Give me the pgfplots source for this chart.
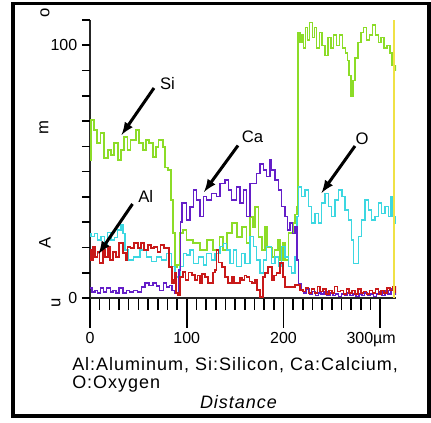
\documentclass[border=0pt]{standalone}
\usepackage{pgfplots}
\pgfplotsset{compat=1.18}
\usepackage{fontspec}
\setmainfont{Liberation Sans}
\definecolor{siG}{RGB}{140,220,40}
\definecolor{caP}{RGB}{100,30,200}
\definecolor{oC}{RGB}{60,215,225}
\definecolor{alR}{RGB}{200,25,25}
\definecolor{yel}{RGB}{240,225,70}
\begin{document}
\begin{tikzpicture}
\begin{axis}[
  scale only axis,
  width=229.6pt, height=208.5pt,
  xmin=0, xmax=316.5, ymin=0, ymax=110,
  axis x line=bottom, axis y line=left,
  axis line style={-, line width=1.2pt, black!85},
  xtick align=outside, ytick align=outside,
  xtick style={black, line width=1.2pt},
  ytick style={black, line width=1.2pt},
  major tick length=22.5pt, minor tick length=9pt,
  xtick={0,100,200,300},
  minor x tick num=9,
  ytick=\empty, extra y ticks={0,10,...,110}, extra y tick labels={0,,,,,,,,,,100,}, extra y tick style={major tick length=6pt},
  xticklabels={0,100,200,{\hspace*{-13.5pt}300µm}},
  ticklabel style={font=\fontsize{12}{14}\selectfont},
]
\addplot[siG, line width=1.1pt, const plot] coordinates {(0,54.6) (1,70.4) (4,66.5) (7,61.3) (11,65.3) (14.5,55.4) (18.6,58.6) (21.7,56.6) (24.8,61.3) (29,54.6) (32,58.6) (35,63.7) (39,58.6) (42,62.5) (47.6,66.5) (50.7,61.3) (54.8,58.6) (58,62.5) (61,61.3) (65,55.8) (68,59.8) (71,62.5) (75.5,59.8) (77.6,51.6) (80.7,50.7) (83.8,38.8) (85.8,25.7) (88,12.3) (90,13) (93,25.7) (96,26.9) (100,23) (106.5,21.8) (113.8,19) (121,23) (127,19) (134,24.1) (137.5,19) (141.7,25.7) (147,29.7) (152,24.1) (157,28.1) (162,21.8) (165.5,32) (168.6,28.1) (170.6,36) (174,24.1) (178,19) (181,28.1) (183,20) (188,16.2) (191,19) (194.4,23) (196.5,15) (199.6,21.8) (201.7,15) (205,25.7) (210,29.7) (212,33) (214,36) (215,105) (217,101) (219,104) (221,99) (223,107) (225,102) (227,109) (230,103) (232,107) (234,99) (237,105) (240,100) (243,96) (246,103) (249,99) (252,104) (255,100) (258,104) (261,99) (264,97) (266,94) (268,88) (270,80) (272,86) (274,95) (277,101) (280,105) (283,107) (286,102) (289,104) (292,108) (295,104) (298,101) (301,103) (304,99) (307,100) (310,97) (312,92) (316.5,90)};
\addplot[oC, line width=1.1pt, const plot] coordinates {(0,25.6) (1,24.3) (4.5,25.6) (8,23) (11.4,24.3) (14.8,21) (18.3,26) (21.7,23) (25.2,24) (28.6,26.9) (32,28.9) (34,25.6) (36,19) (39.7,15) (44.8,16.3) (51.7,19) (58.6,16.3) (63.8,14.4) (69,16.3) (74.1,15) (79.3,17.7) (84.5,12.4) (87.9,8.4) (91.3,7.1) (93,12.4) (96.5,17.7) (100,17) (103.4,19) (106.8,13.7) (112,16.3) (117.2,13) (120.7,17.7) (125.8,15) (129.3,17.7) (134.4,20.3) (137.9,21.6) (141.3,19) (144.8,13.7) (148.2,19) (151.7,12.4) (156.9,17.7) (160.3,13.7) (165.5,24.3) (168.9,20.3) (172.4,15) (175.8,9.8) (179.2,15) (182.7,20.3) (187.8,13.7) (191.3,16.3) (194.7,12.4) (198.2,20.3) (201.7,16.3) (205.1,12.4) (208.5,9.8) (212,16.3) (213.8,32.2) (215.5,44) (218.9,40.1) (222.3,42.7) (225.8,36.1) (229.2,29.6) (232.6,33.5) (236.1,29.6) (239.6,37.5) (243,41.4) (246.5,36.1) (249.9,32.2) (253.4,38.8) (256.8,42.7) (260.3,40.1) (263.7,34.8) (267.1,30.9) (270.6,23) (272.3,13.7) (275.8,13.7) (277.5,24.3) (280.9,30.9) (284.4,38.8) (287.8,34.8) (291.3,30.9) (294.7,32.2) (298.2,37.5) (301.6,33.5) (305.1,36.1) (308.5,32.2) (311,40.1) (313,32.2) (315.4,29.6) (316.5,29.6)};
\addplot[caP, line width=1.1pt, const plot] coordinates {(0,4) (2,2.4) (5,3) (8,2) (11,4) (14,2.4) (17,4) (21,2.4) (24,3) (27,2) (30,4) (34,2) (38,3) (41,2.4) (45,3) (49,2.4) (53,4.3) (57,6) (61,5) (65,6) (69,4.7) (72,3) (76,6) (79,4.3) (82,5) (85,3) (88,2) (91,1) (92,11) (93.5,30) (95,37.5) (100,30.9) (103.4,36) (106.8,42.7) (110.3,38.8) (113.8,32.2) (117.2,40.1) (120.7,38.8) (125.8,41.4) (131,40.1) (134.4,45.4) (139.6,46.7) (143,42.7) (146.5,38.8) (151.7,44) (155,37.5) (158.5,42.7) (162,32.2) (165.5,45.4) (168.9,45.4) (172.4,49.3) (175.8,53) (179.2,50.6) (182.7,48) (186.1,54.6) (187.8,50.6) (191.3,46.7) (194.7,42.7) (198.2,36.1) (201.6,32.2) (204,26.9) (206.8,29.6) (209.6,25.6) (212,28.2) (213.8,15) (215.5,5.8) (218,3) (221,2) (224,3.5) (227,1.5) (230,2.5) (233,1) (236,2) (239,1.5) (242,2.5) (245,1) (248,2) (251,1) (254,1.5) (257,0.5) (260,1.5) (263,1) (266,2) (269,1) (272,1.5) (275,0.5) (278,1.5) (281,1) (284,2) (287,1) (290,1.5) (293,0.5) (296,1.5) (299,2.5) (302,1) (305,3) (308,1.5) (311,3.5) (314,1.5) (316.5,1)};
\addplot[alR, line width=1.1pt, const plot] coordinates {(0,19) (1,15) (3,20.2) (5,16.2) (8,18.2) (10,13.9) (13.4,19) (15.5,16.2) (18.6,20.2) (20.7,15) (23.8,18.2) (27,16.2) (30,21.8) (34,17.8) (37,15) (39,20.2) (42,19.8) (45.5,21.8) (49.6,19.8) (52.7,21.8) (55.8,19) (60,21) (63,19.8) (66,20.2) (70,18.2) (73,21) (76.5,19.8) (81.7,12.3) (84.8,5.9) (86.9,7.1) (88,9.9) (89,2) (91,1.2) (93,8.3) (96,10.3) (99,7.1) (102,10) (105.5,9.1) (108.6,7.1) (111,9) (113.8,5.9) (116,9.5) (119,8.3) (122,6) (124,5.9) (127,10) (129,11.1) (131,19) (133,14) (136.5,12.3) (139.6,8.3) (142.7,5.9) (146.8,8.3) (149,6) (152,5.9) (155,8) (157,7.1) (160,9) (162,8.3) (165,6.5) (167.5,5.9) (170.6,7.1) (172.7,3.2) (175.8,0.4) (179,8.3) (181,9.9) (184,12.3) (188,7.1) (190,9) (193,9.9) (196.5,13.9) (199.6,8.3) (201.7,4.4) (206.8,4.4) (212,5.1) (217,3.2) (220,2.5) (223,4) (226,2) (229,3.5) (232,2) (235,4.5) (238,2.5) (241,3.5) (244,1.5) (247,3) (250,2) (253,4.5) (256,2.5) (259,3) (262,1.5) (265,3.5) (268,2) (271,3) (274,1.5) (277,3.5) (280,2) (283,2.5) (286,1.5) (289,3) (292,2) (295,3.5) (298,1.5) (301,3) (304,2) (307,4) (310,3) (313,4.5) (316.5,2)};
\addplot[yel, line width=1.1pt] coordinates {(314.5,0) (314.5,110)};
\end{axis}
\begin{scope}[x=0.75pt, y=-0.75pt, shift={(-67.5pt,223.5pt)}]
\draw[line width=2.6pt] (13,3.5) rectangle (429,416);
\begin{scope}[line width=2.25pt, -latex]
\draw (154,88) -- (121.5,135);
\draw (238,145.5) -- (204,192);
\draw (355,146) -- (321.5,193);
\draw (132.5,204) -- (98.5,254);
\end{scope}
\begin{scope}[font=\fontsize{12.5}{14}\selectfont]
\node at (167.5,83.5) {Si};
\node at (252.5,136.7) {Ca};
\node at (362,138.7) {O};
\node at (145.7,196.7) {Al};
\node[rotate=90] at (45,13) {o};
\node[rotate=90] at (44,128) {m};
\node[rotate=90] at (45,243) {A};
\node[rotate=90] at (56,303) {u};
\end{scope}
\begin{scope}[font=\fontsize{13.5}{16}\selectfont\addfontfeature{LetterSpace=5.5}]
\node[anchor=base west, inner sep=0pt] at (72,371) {Al:Aluminum, Si:Silicon, Ca:Calcium,};
\node[anchor=base west, inner sep=0pt] at (72,389) {O:Oxygen};
\node[anchor=base, inner sep=0pt] at (238.5,409) {\itshape Distance};
\end{scope}
\end{scope}
\path (-67.5pt,-93.75pt) rectangle (255.75pt,223.5pt);
\end{tikzpicture}
\end{document}
